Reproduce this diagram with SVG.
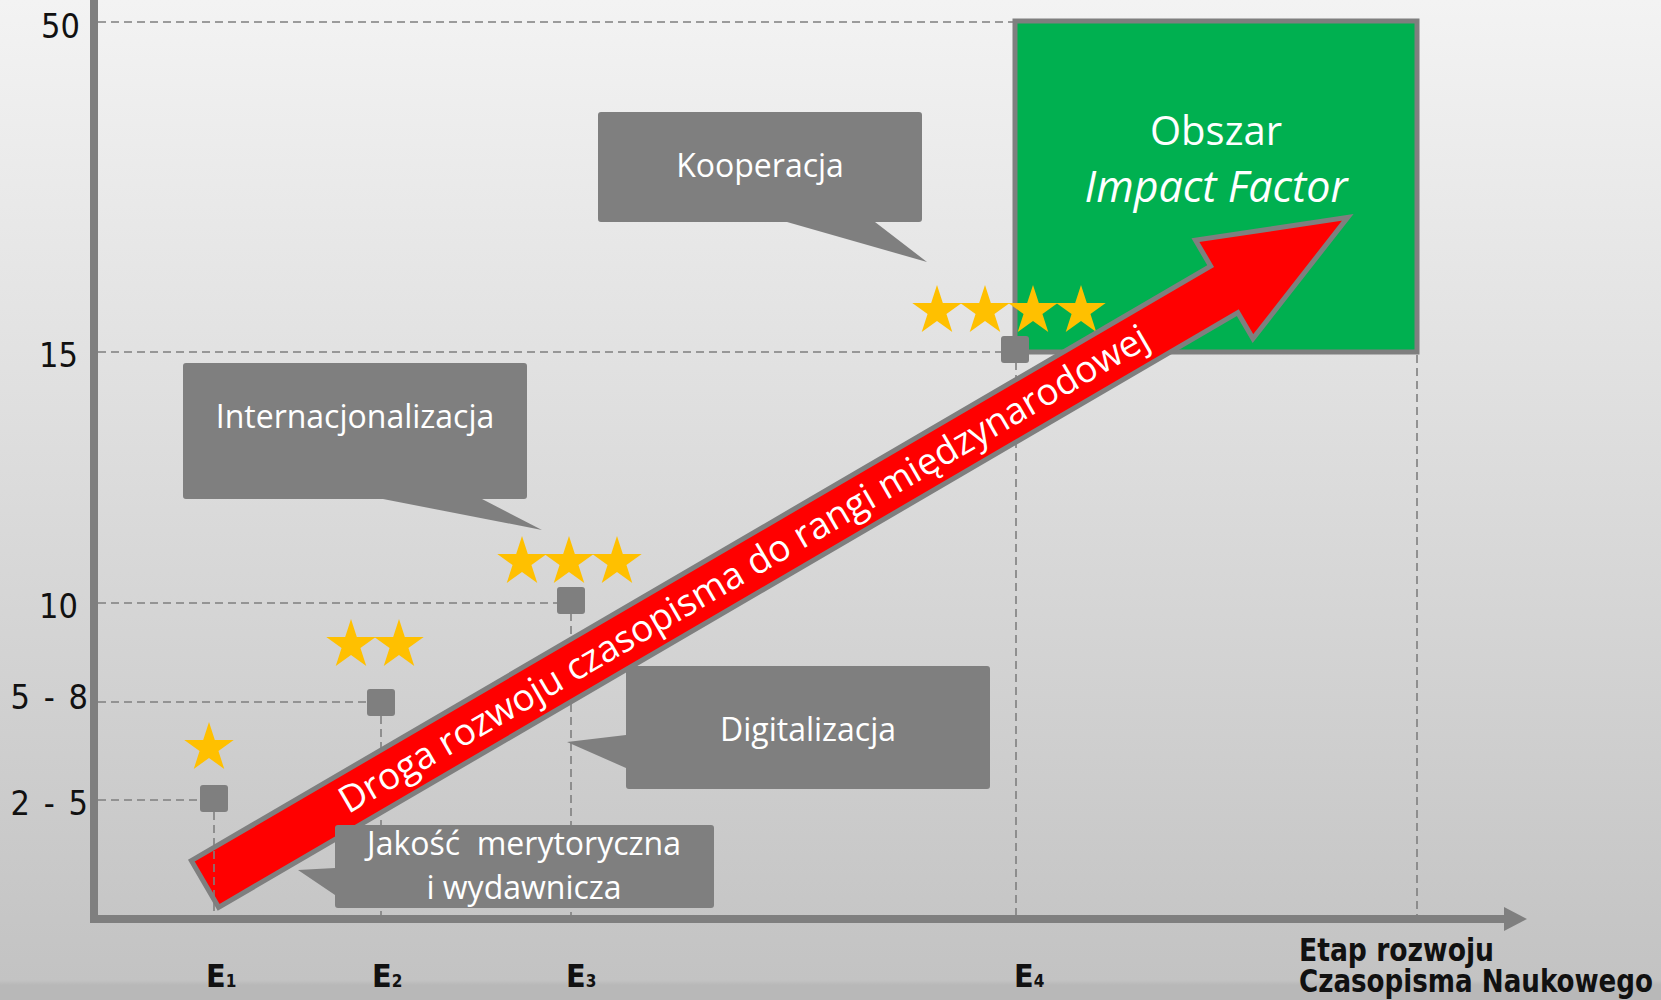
<svg xmlns="http://www.w3.org/2000/svg" xmlns:xlink="http://www.w3.org/1999/xlink" width="1661" height="1000" viewBox="0 0 1661 1000">
<defs>
<linearGradient id="bg" x1="0" y1="0" x2="0" y2="1">
<stop offset="0" stop-color="#f3f3f3"/>
<stop offset="0.98" stop-color="#c3c3c3"/>
<stop offset="0.985" stop-color="#b8b8b8"/>
<stop offset="1" stop-color="#b8b8b8"/>
</linearGradient>
<polygon id="star" points="0,-26 5.84,-8.03 24.73,-8.03 9.44,3.07 15.28,21.03 0,9.93 -15.28,21.03 -9.44,3.07 -24.73,-8.03 -5.84,-8.03"/>
</defs>
<style>
.grid{stroke:#7f7f7f;stroke-width:1.6;stroke-dasharray:8 5;fill:none}
.axis{stroke:#7f7f7f;stroke-width:8;fill:none}
.ylab{font-family:"DejaVu Sans Condensed","DejaVu Sans",sans-serif;font-size:34px;fill:#111;text-anchor:end}
.elab{font-family:"DejaVu Sans Condensed","DejaVu Sans",sans-serif;font-weight:bold;font-size:32px;fill:#111}
.call{fill:#7f7f7f}
.ctext{font-family:"Open Sans",sans-serif;font-size:32px;fill:#fff;text-anchor:middle}
.sq{fill:#7f7f7f}
.st{fill:#ffc000}
</style>
<rect x="0" y="0" width="1661" height="1000" fill="url(#bg)"/>

<g id="gridlines">
<line class="grid" x1="98" y1="22" x2="1015" y2="22"/>
<line class="grid" x1="98" y1="352" x2="1001" y2="352"/>
<line class="grid" x1="98" y1="603" x2="557" y2="603"/>
<line class="grid" x1="98" y1="702" x2="367" y2="702"/>
<line class="grid" x1="98" y1="800" x2="200" y2="800"/>
<line class="grid" x1="381" y1="716" x2="381" y2="915"/>
<line class="grid" x1="571" y1="613" x2="571" y2="915"/>
<line class="grid" x1="1016" y1="362" x2="1016" y2="915"/>
<line class="grid" x1="1417" y1="355" x2="1417" y2="915"/>
</g>

<g id="impact-area">
<rect x="1015" y="21" width="402" height="331" fill="#00b050" stroke="#7f7f7f" stroke-width="5"/>
<text x="1216" y="145" font-family="Open Sans, sans-serif" font-size="40" fill="#fff" text-anchor="middle">Obszar</text>
<text x="1216" y="202" font-family="Open Sans, sans-serif" font-size="43" font-style="italic" fill="#fff" text-anchor="middle">Impact Factor</text>
</g>

<g id="stage-markers">
<rect class="sq" x="200" y="785" width="28" height="27" rx="3"/>
<rect class="sq" x="367" y="689" width="28" height="27" rx="3"/>
<rect class="sq" x="557" y="587" width="28" height="27" rx="3"/>
<rect class="sq" x="1001" y="336" width="28" height="27" rx="3"/>
</g>

<g id="stars">
<use xlink:href="#star" class="st" x="209" y="748"/>
<use xlink:href="#star" class="st" x="351" y="645"/>
<use xlink:href="#star" class="st" x="399" y="645"/>
<use xlink:href="#star" class="st" x="522" y="562"/>
<use xlink:href="#star" class="st" x="569" y="562"/>
<use xlink:href="#star" class="st" x="617" y="562"/>
<use xlink:href="#star" class="st" x="937" y="311"/>
<use xlink:href="#star" class="st" x="985" y="311"/>
<use xlink:href="#star" class="st" x="1033" y="311"/>
<use xlink:href="#star" class="st" x="1081" y="311"/>
</g>

<g id="path-arrow" transform="translate(205,884) rotate(-30.26)">
<polygon points="0,-27 1180,-27 1180,-57 1323,0 1180,57 1180,27 0,27" fill="#ff0000" stroke="#7f7f7f" stroke-width="5"/>
<text x="624" y="12" font-family="Open Sans, sans-serif" font-size="37" fill="#fff" text-anchor="middle">Droga rozwoju czasopisma do rangi międzynarodowej</text>
</g>

<g id="connectors">
<line class="grid" x1="214" y1="812" x2="214" y2="915"/>
<line class="axis" x1="94" y1="0" x2="94" y2="923"/>
<line class="axis" x1="90" y1="919" x2="1506" y2="919"/>
<polygon points="1504,907 1527,919 1504,931" fill="#7f7f7f"/>
</g>

<g id="callout-kooperacja">
<path class="call" d="M601,112 H919 Q922,112 922,115 V219 Q922,222 919,222 H875 L927,262 L787,222 H601 Q598,222 598,219 V115 Q598,112 601,112 Z"/>
<text class="ctext" x="760" y="177">Kooperacja</text>
</g>

<g id="callout-internacjonalizacja">
<path class="call" d="M186,363 H524 Q527,363 527,366 V496 Q527,499 524,499 H482 L542,530 L383,499 H186 Q183,499 183,496 V366 Q183,363 186,363 Z"/>
<text class="ctext" x="355" y="428">Internacjonalizacja</text>
</g>

<g id="callout-digitalizacja">
<path class="call" d="M629,666 H987 Q990,666 990,669 V786 Q990,789 987,789 H629 Q626,789 626,786 V768 L567,742 L626,735 V669 Q626,666 629,666 Z"/>
<text class="ctext" x="808" y="741">Digitalizacja</text>
</g>

<g id="callout-jakosc">
<path class="call" d="M338,825 H711 Q714,825 714,828 V905 Q714,908 711,908 H338 Q335,908 335,905 V895 L298,870 L335,868 V828 Q335,825 338,825 Z"/>
<text class="ctext" x="524" y="855" xml:space="preserve">Jakość  merytoryczna</text>
<text class="ctext" x="524" y="899">i wydawnicza</text>
</g>

<g id="y-labels">
<text class="ylab" x="80" y="38">50</text>
<text class="ylab" x="78" y="367">15</text>
<text class="ylab" x="78" y="618">10</text>
<text class="ylab" x="88" y="709" word-spacing="4" xml:space="preserve">5 - 8</text>
<text class="ylab" x="88" y="815" word-spacing="4" xml:space="preserve">2 - 5</text>
</g>

<g id="x-labels">
<text class="elab" x="206" y="987">E<tspan font-size="17">1</tspan></text>
<text class="elab" x="372" y="987">E<tspan font-size="17">2</tspan></text>
<text class="elab" x="566" y="987">E<tspan font-size="17">3</tspan></text>
<text class="elab" x="1014" y="987">E<tspan font-size="17">4</tspan></text>
<text class="elab" x="1299" y="961" font-size="26" textLength="195" lengthAdjust="spacingAndGlyphs">Etap rozwoju</text>
<text class="elab" x="1299" y="992" font-size="26" textLength="354" lengthAdjust="spacingAndGlyphs">Czasopisma Naukowego</text>
</g>
</svg>
